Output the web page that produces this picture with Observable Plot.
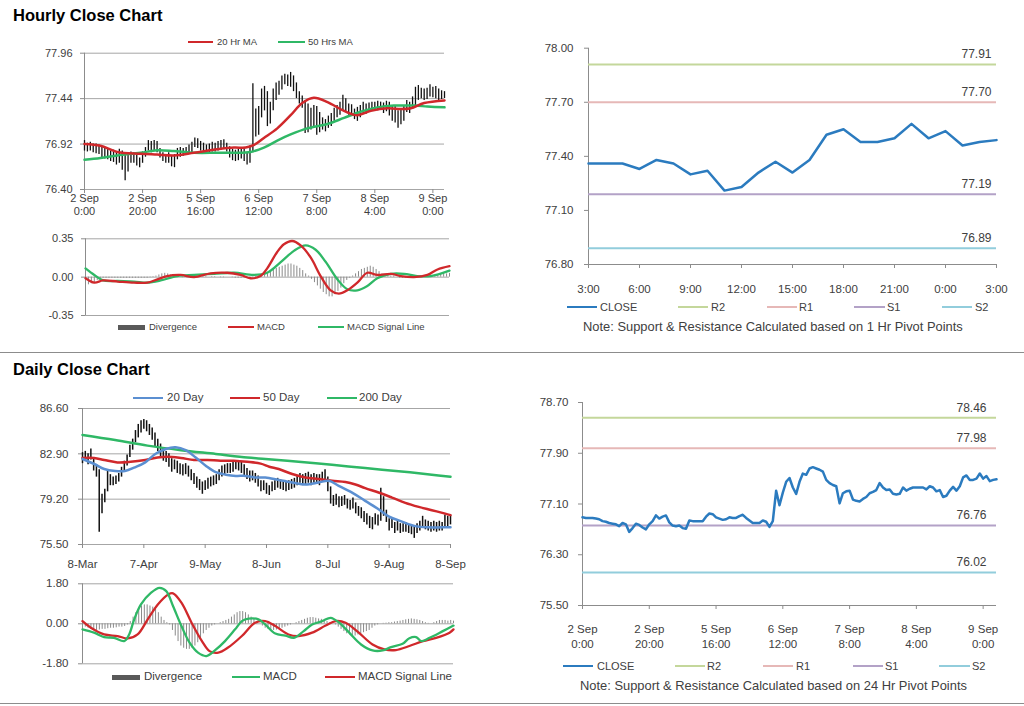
<!DOCTYPE html>
<html><head><meta charset="utf-8">
<script src="https://cdn.jsdelivr.net/npm/d3@7"></script>
<script src="https://cdn.jsdelivr.net/npm/@observablehq/plot@0.6"></script>
<style>
body{margin:0;background:#fff;font-family:Arial,"Liberation Sans",sans-serif;}
#root{position:relative;width:1024px;height:706px;overflow:hidden;background:#fff;}
</style></head>
<body><div id="root"></div>
<script>
// ---------------- DATA ----------------
// Hourly (2 Sep 0:00 -> 9 Sep ~4:00), index = trading hour
const hourlyClose = [76.89,76.88,76.88,76.88,76.87,76.86,76.83,76.82,76.80,76.79,76.78,76.75,76.80,76.78,76.66,76.72,76.79,76.77,76.73,76.70,
76.78,76.83,76.92,76.87,76.90,76.92,76.81,76.76,76.75,76.76,76.72,76.71,76.84,76.83,76.83,76.83,76.83,76.90,76.95,76.94,
76.89,76.87,76.85,76.86,76.89,76.88,76.88,76.91,76.93,76.88,76.84,76.80,76.80,76.80,76.84,76.82,76.74,76.83,77.31,77.08,
77.28,77.45,77.51,77.36,77.26,77.45,77.58,77.56,77.66,77.68,77.66,77.64,77.61,77.48,77.43,77.40,77.38,77.11,77.27,77.30,
77.31,77.17,77.15,77.14,77.18,77.21,77.27,77.29,77.32,77.43,77.36,77.32,77.33,77.26,77.25,77.26,77.36,77.31,77.34,77.36,
77.36,77.36,77.36,77.33,77.38,77.36,77.30,77.32,77.21,77.23,77.31,77.37,77.31,77.38,77.52,77.55,77.48,77.48,77.50,77.58,
77.50,77.54,77.46,77.48,77.49];
const hourlyHigh = [76.96,76.93,76.94,76.92,76.92,76.91,76.88,76.87,76.86,76.84,76.85,76.82,76.86,76.84,76.80,76.80,76.83,76.82,76.79,76.76,
76.83,76.88,76.96,76.95,76.96,76.95,76.87,76.82,76.80,76.82,76.79,76.80,76.87,76.88,76.87,76.88,76.91,76.94,76.99,76.98,
76.95,76.93,76.91,76.92,76.94,76.93,76.95,76.96,76.97,76.93,76.89,76.86,76.85,76.86,76.88,76.87,76.82,76.90,77.61,77.32,
77.35,77.55,77.58,77.52,77.40,77.55,77.62,77.64,77.70,77.72,77.71,77.74,77.70,77.62,77.52,77.47,77.42,77.38,77.33,77.36,
77.35,77.28,77.22,77.20,77.24,77.27,77.33,77.36,77.40,77.48,77.44,77.38,77.37,77.32,77.34,77.36,77.40,77.38,77.39,77.40,
77.40,77.41,77.40,77.39,77.41,77.40,77.36,77.35,77.30,77.31,77.36,77.42,77.40,77.46,77.57,77.59,77.56,77.55,77.56,77.60,
77.57,77.58,77.55,77.53,77.52];
const hourlyLow = [76.84,76.83,76.84,76.82,76.81,76.80,76.76,76.75,76.74,76.72,76.71,76.68,76.70,76.62,76.50,76.60,76.70,76.70,76.67,76.65,
76.70,76.77,76.84,76.82,76.84,76.82,76.76,76.72,76.70,76.70,76.66,76.65,76.74,76.77,76.78,76.79,76.80,76.82,76.88,76.87,
76.84,76.82,76.81,76.82,76.83,76.83,76.84,76.85,76.86,76.83,76.76,76.73,76.72,76.73,76.75,76.72,76.68,76.70,76.82,77.00,
77.02,77.22,77.30,77.12,77.15,77.30,77.42,77.48,77.54,77.60,77.58,77.57,77.52,77.44,77.38,77.33,77.04,77.05,77.08,77.10,
77.02,77.05,77.08,77.06,77.10,77.12,77.18,77.22,77.25,77.30,77.29,77.25,77.24,77.20,77.18,77.22,77.27,77.26,77.28,77.30,
77.31,77.30,77.31,77.27,77.29,77.24,77.18,77.16,77.10,77.14,77.18,77.28,77.27,77.32,77.36,77.42,77.44,77.42,77.43,77.46,
77.45,77.44,77.42,77.43,77.44];
const hourlyTickIdx = [0,20,40,60,80,100,120];
const hourlyTickLabels = ["2 Sep\n0:00","2 Sep\n20:00","5 Sep\n16:00","6 Sep\n12:00","7 Sep\n8:00","8 Sep\n4:00","9 Sep\n0:00"];
const hourlyYTicks = [76.40,76.92,77.44,77.96];
// moving averages: [hour index, value]
const ma20Hr = [[0,76.92],[5.5,76.90],[11.3,76.83],[19.3,76.81],[25,76.80],[30.8,76.79],[37.7,76.82],[45.7,76.86],[51.5,76.88],[55.5,76.88],[58.4,76.91],[61.8,76.99],[66.4,77.10],[71,77.25],[75,77.39],[79,77.45],[83.7,77.40],[89.4,77.30],[94,77.25],[98.6,77.30],[104.4,77.33],[109,77.32],[112.4,77.33],[117,77.39],[124,77.42]];
const ma50Hr = [[0,76.74],[5.5,76.76],[11.3,76.79],[19.3,76.82],[25,76.85],[30.8,76.84],[37.7,76.82],[45.7,76.82],[51.5,76.82],[57.2,76.83],[61.8,76.88],[66.4,76.96],[71,77.03],[76.7,77.10],[83.7,77.15],[89.4,77.22],[95.1,77.29],[100.9,77.34],[106.6,77.36],[113.5,77.36],[118.1,77.35],[124,77.34]];
// hourly MACD
const macdHr = [[0,-0.01],[3,-0.05],[6,-0.03],[11,-0.04],[16.5,-0.05],[21,-0.05],[24.5,-0.02],[27.8,0.01],[32.4,0.02],[37,0.0],[42.6,0.035],[48.3,0.04],[52.8,0.02],[56.2,-0.01],[59.6,0.01],[61.9,0.08],[65.3,0.23],[67.6,0.30],[70.4,0.33],[73.3,0.29],[76.7,0.18],[80.1,0.01],[83.5,-0.12],[86.3,-0.15],[89.2,-0.12],[92.6,-0.05],[96,0.04],[99.4,0.02],[104,0.03],[107.4,0.01],[111.9,0.0],[116.5,0.02],[119.9,0.07],[124,0.10]];
const signalHr = [[0,0.08],[3,0.02],[6,-0.03],[11,-0.035],[16.5,-0.04],[21,-0.05],[25.6,-0.03],[31.3,0.01],[37,0.02],[43.8,0.03],[50.6,0.04],[57.4,0.02],[61.9,0.04],[66.4,0.135],[71,0.24],[75,0.29],[78.4,0.25],[81.8,0.14],[85.8,-0.02],[89.2,-0.11],[92.6,-0.12],[96,-0.08],[99.4,-0.01],[104,0.03],[108.5,0.03],[113,0.01],[117.6,0.01],[124,0.06]];
const divergenceHr = [-0.07,-0.07,-0.06,-0.05,-0.03,-0.02,-0.01,
-0.01,-0.01,-0.01,-0.01,-0.01,-0.01,-0.01,-0.01,-0.01,-0.01,-0.01,-0.01,-0.01,-0.01,-0.01,-0.005,0.005,0.01,
0.02,0.03,0.035,0.03,0.02,
0.01,0.005,0.0,-0.005,0.005,0.01,0.01,0.005,0.005,0.01,0.01,0.005,0.0,0.005,0.005,0.0,-0.005,-0.005,0.0,0.0,-0.005,-0.01,-0.01,-0.01,-0.005,-0.005,-0.01,-0.005,0.005,0.01,0.01,
0.02,0.03,0.05,0.07,0.08,0.09,0.10,0.11,0.12,0.12,0.11,0.10,0.08,0.06,0.03,0.01,
-0.02,-0.05,-0.08,-0.11,-0.14,-0.16,-0.18,-0.18,-0.16,-0.13,-0.10,-0.06,-0.03,-0.01,
0.01,0.03,0.05,0.07,0.08,0.09,0.10,0.09,0.07,0.05,0.03,0.02,0.01,
0.01,0.01,0.0,-0.01,-0.01,-0.01,-0.005,0.0,0.0,0.005,0.01,0.01,0.005,0.005,0.01,0.015,0.02,0.025,0.03,0.03,0.035];
const macdHrYTicks = [-0.35,0,0.35];

// last 24 hours close (1 Hr pivot chart)
const close24 = [77.36,77.36,77.36,77.33,77.38,77.36,77.30,77.32,77.21,77.23,77.31,77.37,77.31,77.38,77.52,77.55,77.48,77.48,77.50,77.58,77.50,77.54,77.46,77.48,77.49];
const close24TickIdx = [0,3,6,9,12,15,18,21,24];
const close24TickLabels = ["3:00","6:00","9:00","12:00","15:00","18:00","21:00","0:00","3:00"];
const close24YTicks = [76.80,77.10,77.40,77.70,78.00];

const pivotNames = ["R2","R1","S1","S2"];
const pivot1hValues = [77.91,77.70,77.19,76.89];
const pivot24hValues = [78.46,77.98,76.76,76.02];
const pivotColors = ["#c4d79b","#e6b8b7","#b3a2c7","#92cddc"];
const pivot24YTicks = [75.50,76.30,77.10,77.90,78.70];

// Daily (8-Mar -> 8-Sep), index = trading day
const dailyClose = [82.6,82.7,82.4,82.9,81.8,81.4,79.2,78.6,79.6,81.0,80.7,80.6,80.8,81.0,81.5,81.9,82.5,83.2,83.7,84.3,
84.7,85.2,85.4,85.1,84.9,84.5,84.0,83.6,83.0,82.75,82.66,82.3,81.9,82.0,81.8,81.6,81.5,81.7,81.4,81.1,
80.8,80.5,80.3,80.1,80.3,80.4,80.6,80.7,80.8,81.2,81.5,81.6,81.8,81.7,81.85,82.0,81.9,81.8,81.5,81.25,
81.0,81.1,80.9,80.7,80.1,80.3,80.0,79.9,80.2,80.3,80.56,80.4,80.3,80.2,80.3,80.4,80.5,80.7,80.9,80.7,
80.85,81.0,80.7,80.9,80.8,80.76,81.0,81.1,80.2,79.3,79.06,79.2,78.9,79.0,79.1,78.8,78.7,78.9,78.4,78.2,
78.0,77.8,77.56,77.3,77.15,77.6,77.4,79.06,78.3,77.7,77.0,77.2,76.9,77.0,76.8,76.8,76.9,76.8,76.7,76.46,
76.8,77.0,77.3,77.1,77.0,76.9,77.0,76.9,77.0,76.9,77.4,77.3,77.5];
const dailyHigh = [83.0,83.1,82.9,83.3,82.5,82.0,81.6,79.6,80.0,81.6,81.2,81.0,81.1,81.3,81.8,82.3,82.8,83.6,84.1,84.8,
85.3,85.6,85.7,85.6,85.3,85.0,84.6,84.1,83.7,83.3,83.1,82.9,82.5,82.4,82.3,82.1,82.0,82.1,81.9,81.6,
81.3,81.0,80.8,80.6,80.7,80.9,81.0,81.1,81.2,81.6,81.9,82.0,82.1,82.1,82.2,82.3,82.3,82.2,82.0,81.7,
81.5,81.5,81.3,81.1,80.7,80.7,80.5,80.3,80.6,80.7,80.9,80.8,80.7,80.6,80.7,80.8,80.9,81.1,81.3,81.2,
81.3,81.4,81.2,81.3,81.2,81.2,81.4,81.6,81.0,80.2,79.5,79.6,79.4,79.4,79.5,79.2,79.1,79.3,78.9,78.6,
78.5,78.2,78.0,77.8,77.7,78.0,77.9,80.1,79.4,78.3,77.6,77.6,77.3,77.4,77.2,77.2,77.3,77.1,77.1,76.9,
77.2,77.4,77.8,77.5,77.4,77.3,77.4,77.3,77.4,77.3,77.9,77.8,77.9];
const dailyLow = [82.1,82.3,82.0,82.4,81.5,81.0,76.5,78.0,78.9,79.8,80.3,80.3,80.4,80.6,81.0,81.4,81.9,82.6,83.2,83.8,
84.2,84.6,84.9,84.7,84.4,84.0,83.5,83.1,82.6,82.3,82.2,81.8,81.4,81.6,81.3,81.2,81.1,81.2,81.0,80.7,
80.4,80.1,79.9,79.6,79.9,80.0,80.2,80.3,80.4,80.7,81.0,81.2,81.3,81.3,81.4,81.6,81.5,81.3,81.1,80.8,
80.6,80.7,80.5,80.2,79.8,79.9,79.6,79.5,79.8,79.9,80.1,80.0,79.9,79.8,79.9,80.0,80.1,80.3,80.5,80.3,
80.4,80.5,80.3,80.5,80.4,80.3,80.6,80.7,79.8,78.8,78.6,78.7,78.5,78.6,78.7,78.4,78.3,78.4,78.0,77.8,
77.6,77.3,77.1,76.8,76.7,77.1,77.0,77.4,77.8,77.3,76.6,76.8,76.4,76.6,76.4,76.5,76.5,76.4,76.3,76.0,
76.4,76.6,76.9,76.7,76.6,76.5,76.6,76.5,76.6,76.6,76.9,76.9,77.1];
const dailyTickIdx = [0,22,44,66,88,110,132];
const dailyTickLabels = ["8-Mar","7-Apr","9-May","8-Jun","8-Jul","9-Aug","8-Sep"];
const dailyYTicks = [75.50,79.20,82.90,86.60];
const ma20D = [[0,82.48],[4.2,82.07],[7.8,81.66],[11.7,81.5],[15.2,81.5],[18.8,81.8],[22.5,82.2],[26.1,82.89],[29.9,83.3],[33.4,83.43],[37,83.2],[40.6,82.6],[44.2,81.93],[47.8,81.4],[51.4,81.2],[55,81.1],[58.5,81.1],[62.1,80.97],[65.6,80.97],[70.4,80.76],[75.2,80.56],[79.9,80.4],[84.7,80.56],[88.3,80.7],[91.9,80.29],[96.7,79.74],[101.4,79.06],[106.2,78.38],[109.8,77.8],[114.6,77.37],[119.4,77.0],[124.1,76.9],[128.9,76.9],[132,76.9]];
const ma50D = [[0,82.56],[4.2,82.56],[7.8,82.4],[12.5,82.2],[17.3,82.25],[22.5,82.4],[26.9,82.6],[30.5,82.66],[35.3,82.56],[40,82.4],[44.8,82.4],[49.5,82.34],[54.3,82.34],[59.1,82.25],[63.9,82.1],[67,81.85],[70.4,81.66],[75.2,81.25],[79.9,80.97],[84.7,80.84],[89.5,80.7],[94.3,80.6],[97.9,80.4],[101.4,80.1],[106.2,79.74],[111,79.33],[115.8,78.9],[120.6,78.57],[125.3,78.3],[130.1,78.02],[132,77.9]];
const ma200D = [[0,84.44],[11.7,84.03],[23.3,83.57],[35.3,83.2],[47.8,82.89],[59.1,82.6],[65.6,82.48],[77.5,82.25],[89.5,82.0],[101.4,81.74],[113.4,81.48],[125.3,81.2],[132,81.03]];
const macdD = [[0,-0.25],[4.1,-0.4],[7.7,-0.6],[11.2,-0.63],[14.8,-0.78],[16.6,-0.48],[18.4,0.2],[20.8,0.87],[24.4,1.4],[27.4,1.62],[29.8,1.47],[32.2,0.8],[35.2,-0.1],[38.1,-0.85],[41.1,-1.3],[44.1,-1.45],[47.1,-1.2],[50.7,-0.78],[54.3,-0.25],[56.7,0.12],[59.1,0.23],[62.6,0.2],[65,-0.03],[68.6,-0.44],[72.2,-0.53],[75.2,-0.63],[78.7,-0.33],[81.7,-0.03],[85.3,0.12],[88.3,0.27],[91.3,0.05],[94.9,-0.4],[99.1,-0.93],[103.2,-1.2],[106.8,-1.2],[109.8,-1.05],[113.9,-0.9],[116.3,-0.65],[118.7,-0.6],[120.5,-0.78],[123.5,-0.63],[128.2,-0.33],[132,-0.08]];
const signalD = [[0,0.12],[3,-0.18],[7.7,-0.48],[12.5,-0.55],[16.1,-0.66],[19.6,-0.48],[23.2,0.2],[26.8,0.87],[30.5,1.32],[32.2,1.37],[35.2,0.95],[38.8,0.05],[42.5,-0.78],[45.2,-1.23],[48.3,-1.3],[51.8,-1.07],[56.7,-0.55],[61.4,0.05],[65,0.12],[68.6,-0.1],[73.3,-0.48],[76.9,-0.55],[81.7,-0.4],[86.5,-0.08],[90.1,0.12],[93.6,0.05],[98.3,-0.4],[103.2,-0.93],[107.4,-1.15],[111.5,-1.18],[116.3,-1.0],[121.1,-0.78],[125.8,-0.63],[130.6,-0.4],[132,-0.25]];
const divergenceD = [-0.1,-0.15,-0.2,-0.25,-0.3,-0.3,-0.28,-0.25,-0.25,-0.22,-0.2,-0.2,-0.18,-0.15,-0.15,-0.12,-0.05,
0.1,0.3,0.5,0.65,0.8,0.85,0.85,0.8,0.75,0.65,0.5,0.3,0.15,0.05,-0.05,
-0.3,-0.55,-0.8,-1.0,-1.1,-1.15,-1.15,-1.1,-1.0,-0.85,-0.65,-0.45,-0.3,-0.2,-0.1,-0.05,
0.0,0.05,0.1,0.15,0.2,
0.3,0.4,0.5,0.55,0.55,0.5,0.4,0.3,0.2,0.1,0.0,
-0.1,-0.2,-0.25,-0.3,-0.3,-0.28,-0.25,-0.2,-0.15,-0.1,-0.05,0.0,0.05,0.1,0.15,0.2,
0.25,0.28,0.28,0.25,0.22,0.2,0.15,0.1,0.05,0.0,-0.05,
-0.15,-0.25,-0.35,-0.45,-0.5,-0.55,-0.55,-0.5,-0.45,-0.4,-0.35,-0.3,-0.2,-0.1,-0.05,0.0,
0.02,0.03,0.05,0.05,0.08,0.1,
0.12,0.15,0.18,0.2,0.22,0.2,0.18,0.15,0.1,0.05,0.02,0.0,
0.05,0.1,0.15,0.15,0.15,0.12,0.15,0.12];
const macdDYTicks = [-1.8,0,1.8];

// ---------------- STYLE ----------------
const FONT = "Arial, 'Liberation Sans', sans-serif";
const TXT = "#404040", GRID = "#a6a6a6", AXIS = "#8c8c8c";
const RED = "#d0282b", GREEN = "#2fb866", BLUE20 = "#5b8fd1", CLOSEBLUE = "#2b7bbf", DIVC = "#8a8a8a";
const root = document.getElementById("root");
const f2 = d => d.toFixed(2);
const P = d => d[0], V = d => d[1];

const hourly = hourlyClose.map((c, i) => ({i, c, hi: hourlyHigh[i], lo: hourlyLow[i], dv: divergenceHr[i]}));
const daily = dailyClose.map((c, i) => ({i, c, hi: dailyHigh[i], lo: dailyLow[i], dv: divergenceD[i]}));

function place(node, left, top) {
  node.style.position = "absolute";
  node.style.left = left + "px";
  node.style.top = top + "px";
  root.appendChild(node);
}
function chart(o) {
  const svg = Plot.plot({
    width: o.w, height: o.h,
    marginLeft: o.ml, marginRight: o.mr, marginTop: o.mt, marginBottom: o.mb,
    style: {background: "none", fontFamily: FONT, maxWidth: "none", overflow: "visible"},
    x: {domain: o.xd, axis: null, label: null},
    y: {domain: o.yd, axis: null, label: null},
    marks: o.marks
  });
  place(svg, o.left, o.top);
}
function div(text, css) {
  const d = document.createElement("div");
  d.textContent = text;
  d.style.cssText = "position:absolute;white-space:nowrap;line-height:1;" + css;
  root.appendChild(d);
  return d;
}
function legend(items, y, fs) {
  for (const it of items) {
    const h = it.bar ? 5 : 2.5;
    div("", `left:${it.sx}px;top:${y - h / 2}px;width:${it.sw}px;height:${h}px;background:${it.c};`);
    div(it.t, `left:${it.tx}px;top:${y}px;transform:translateY(-50%);font-size:${fs}px;color:${TXT};font-family:${FONT};`);
  }
}
const labelOf = (ticks, labels) => d => labels[ticks.indexOf(d)];
const yAxis = (ticks, pad, fs) => Plot.axisY(ticks, {label: null, tickSize: 4, tickPadding: pad, tickFormat: f2, fontSize: fs, color: TXT, stroke: AXIS});
const xAxis = (ticks, labels, pad, fs, lh) => Plot.axisX(ticks, {label: null, tickSize: 4, tickPadding: pad, tickFormat: labelOf(ticks, labels), fontSize: fs, lineHeight: lh, color: TXT, stroke: AXIS});

// ---------------- TITLES & SEPARATORS ----------------
div("Hourly Close Chart", `left:13px;top:7px;font-size:16.5px;font-weight:bold;color:#000;font-family:${FONT};`);
div("Daily Close Chart", `left:13px;top:361px;font-size:16.5px;font-weight:bold;color:#000;font-family:${FONT};`);
div("", "left:0;top:352px;width:1024px;height:1px;background:#8c8c8c;");
div("", "left:0;top:703px;width:1024px;height:1px;background:#8c8c8c;");

// ---------------- A: hourly price ----------------
chart({
  left: 0, top: 40, w: 460, h: 185, ml: 84, mr: 16, mt: 12.7, mb: 36,
  xd: [hourlyTickIdx[0], hourlyClose.length - 1], yd: [hourlyYTicks[0], hourlyYTicks[hourlyYTicks.length - 1]],
  marks: [
    Plot.gridY(hourlyYTicks, {stroke: GRID, strokeOpacity: 1}),
    Plot.ruleX([hourlyTickIdx[0]], {stroke: AXIS}),
    yAxis(hourlyYTicks, 8, 11),
    xAxis(hourlyTickIdx, hourlyTickLabels, 0, 11, 1.15),
    Plot.ruleX(hourly, {x: "i", y1: "lo", y2: "hi", stroke: "#111", strokeWidth: 1.3}),
    Plot.line(ma50Hr, {x: P, y: V, stroke: GREEN, strokeWidth: 2.5, curve: "catmull-rom"}),
    Plot.line(ma20Hr, {x: P, y: V, stroke: RED, strokeWidth: 2.5, curve: "catmull-rom"})
  ]
});
legend([
  {sx: 188, sw: 25, c: RED, t: "20 Hr MA", tx: 217},
  {sx: 278, sw: 27, c: GREEN, t: "50 Hrs MA", tx: 308}
], 42, 9.5);

// ---------------- B: hourly MACD ----------------
chart({
  left: 0, top: 230, w: 465, h: 90, ml: 85, mr: 16, mt: 8.3, mb: 5,
  xd: [hourlyTickIdx[0], hourlyClose.length - 1], yd: [macdHrYTicks[0], macdHrYTicks[2]],
  marks: [
    Plot.gridY(macdHrYTicks, {stroke: GRID, strokeOpacity: 1}),
    Plot.ruleX([hourlyTickIdx[0]], {stroke: AXIS}),
    yAxis(macdHrYTicks, 8, 11),
    Plot.ruleX(hourly, {x: "i", y1: 0, y2: "dv", stroke: DIVC, strokeWidth: 1}),
    Plot.line(signalHr, {x: P, y: V, stroke: GREEN, strokeWidth: 2.3, curve: "catmull-rom"}),
    Plot.line(macdHr, {x: P, y: V, stroke: RED, strokeWidth: 2.3, curve: "catmull-rom"})
  ]
});
legend([
  {sx: 118, sw: 27, c: "#595959", t: "Divergence", tx: 149, bar: true},
  {sx: 228, sw: 26, c: RED, t: "MACD", tx: 257},
  {sx: 318, sw: 26, c: GREEN, t: "MACD Signal Line", tx: 347}
], 327, 9.5);

// ---------------- C: 1 Hr pivot chart ----------------
const piv1 = pivotNames.map((n, k) => ({n, v: pivot1hValues[k], color: pivotColors[k]}));
chart({
  left: 520, top: 40, w: 504, h: 260, ml: 68, mr: 28, mt: 7.7, mb: 36,
  xd: [close24TickIdx[0], close24TickIdx[close24TickIdx.length - 1]], yd: [close24YTicks[0], close24YTicks[4]],
  marks: [
    Plot.ruleX([close24TickIdx[0]], {stroke: AXIS}),
    Plot.ruleY([close24YTicks[0]], {stroke: AXIS}),
    yAxis(close24YTicks, 11, 11.5),
    xAxis(close24TickIdx, close24TickLabels, 15, 11.5, 1.2),
    ...piv1.map(p => Plot.ruleY([p.v], {stroke: p.color, strokeWidth: 2})),
    Plot.text(piv1, {y: "v", text: d => d.v.toFixed(2), frameAnchor: "right", textAnchor: "end", dx: -5, dy: -10, fontSize: 12, fill: TXT}),
    Plot.line(close24, {x: (d, i) => i, y: d => d, stroke: CLOSEBLUE, strokeWidth: 2.5})
  ]
});
legend([
  {sx: 567, sw: 30, c: CLOSEBLUE, t: "CLOSE", tx: 600},
  {sx: 678, sw: 30, c: pivotColors[0], t: "R2", tx: 711},
  {sx: 767, sw: 30, c: pivotColors[1], t: "R1", tx: 799},
  {sx: 854, sw: 31, c: pivotColors[2], t: "S1", tx: 887},
  {sx: 942, sw: 30, c: pivotColors[3], t: "S2", tx: 975}
], 307, 11);
div("Note: Support & Resistance Calculated based on 1 Hr Pivot Points", `left:583px;top:321px;font-size:12.9px;color:${TXT};font-family:${FONT};`);

// ---------------- D: daily price ----------------
chart({
  left: 0, top: 400, w: 470, h: 175, ml: 82, mr: 20, mt: 8, mb: 31,
  xd: [dailyTickIdx[0], dailyTickIdx[dailyTickIdx.length - 1]], yd: [dailyYTicks[0], dailyYTicks[3]],
  marks: [
    Plot.gridY(dailyYTicks, {stroke: GRID, strokeOpacity: 1}),
    Plot.ruleX([dailyTickIdx[0]], {stroke: AXIS}),
    yAxis(dailyYTicks, 10, 11.5),
    xAxis(dailyTickIdx, dailyTickLabels, 10, 11.5, 1.2),
    Plot.ruleX(daily, {x: "i", y1: "lo", y2: "hi", stroke: "#111", strokeWidth: 1.5}),
    Plot.line(ma200D, {x: P, y: V, stroke: GREEN, strokeWidth: 2.5, curve: "catmull-rom"}),
    Plot.line(ma50D, {x: P, y: V, stroke: RED, strokeWidth: 2.5, curve: "catmull-rom"}),
    Plot.line(ma20D, {x: P, y: V, stroke: BLUE20, strokeWidth: 2.5, curve: "catmull-rom"})
  ]
});
legend([
  {sx: 133, sw: 30, c: BLUE20, t: "20 Day", tx: 167},
  {sx: 230, sw: 30, c: RED, t: "50 Day", tx: 263},
  {sx: 327, sw: 30, c: GREEN, t: "200 Day", tx: 359}
], 398, 11.5);

// ---------------- E: daily MACD ----------------
chart({
  left: 0, top: 575, w: 470, h: 95, ml: 82, mr: 17, mt: 8.3, mb: 6.7,
  xd: [dailyTickIdx[0], dailyTickIdx[dailyTickIdx.length - 1]], yd: [macdDYTicks[0], macdDYTicks[2]],
  marks: [
    Plot.gridY(macdDYTicks, {stroke: GRID, strokeOpacity: 1}),
    Plot.ruleX([dailyTickIdx[0]], {stroke: AXIS}),
    yAxis(macdDYTicks, 10, 11.5),
    Plot.ruleX(daily, {x: "i", y1: 0, y2: "dv", stroke: DIVC, strokeWidth: 1}),
    Plot.line(signalD, {x: P, y: V, stroke: RED, strokeWidth: 2.3, curve: "catmull-rom"}),
    Plot.line(macdD, {x: P, y: V, stroke: GREEN, strokeWidth: 2.3, curve: "catmull-rom"})
  ]
});
legend([
  {sx: 112, sw: 28, c: "#595959", t: "Divergence", tx: 144, bar: true},
  {sx: 232, sw: 28, c: GREEN, t: "MACD", tx: 263},
  {sx: 325, sw: 30, c: RED, t: "MACD Signal Line", tx: 358}
], 677, 11.5);

// ---------------- F: 24 Hr pivot chart ----------------
const piv24 = pivotNames.map((n, k) => ({n, v: pivot24hValues[k], color: pivotColors[k]}));
chart({
  left: 520, top: 395, w: 504, h: 260, ml: 62, mr: 28, mt: 7, mb: 50,
  xd: [hourlyTickIdx[0], hourlyClose.length - 1], yd: [pivot24YTicks[0], pivot24YTicks[4]],
  marks: [
    Plot.ruleX([hourlyTickIdx[0]], {stroke: AXIS}),
    Plot.ruleY([pivot24YTicks[0]], {stroke: AXIS}),
    yAxis(pivot24YTicks, 10, 11.5),
    xAxis(hourlyTickIdx, hourlyTickLabels, 13, 11.5, 1.3),
    ...piv24.map(p => Plot.ruleY([p.v], {stroke: p.color, strokeWidth: 2})),
    Plot.text(piv24, {y: "v", text: d => d.v.toFixed(2), frameAnchor: "right", textAnchor: "end", dx: -10, dy: -10, fontSize: 12, fill: TXT}),
    Plot.line(hourly, {x: "i", y: "c", stroke: CLOSEBLUE, strokeWidth: 2.5})
  ]
});
legend([
  {sx: 563, sw: 30, c: CLOSEBLUE, t: "CLOSE", tx: 597},
  {sx: 675, sw: 30, c: pivotColors[0], t: "R2", tx: 707},
  {sx: 763, sw: 30, c: pivotColors[1], t: "R1", tx: 796},
  {sx: 853, sw: 30, c: pivotColors[2], t: "S1", tx: 885},
  {sx: 939, sw: 31, c: pivotColors[3], t: "S2", tx: 972}
], 666, 11);
div("Note: Support & Resistance Calculated based on 24 Hr Pivot Points", `left:580px;top:680px;font-size:12.9px;color:${TXT};font-family:${FONT};`);
</script>
</body></html>
